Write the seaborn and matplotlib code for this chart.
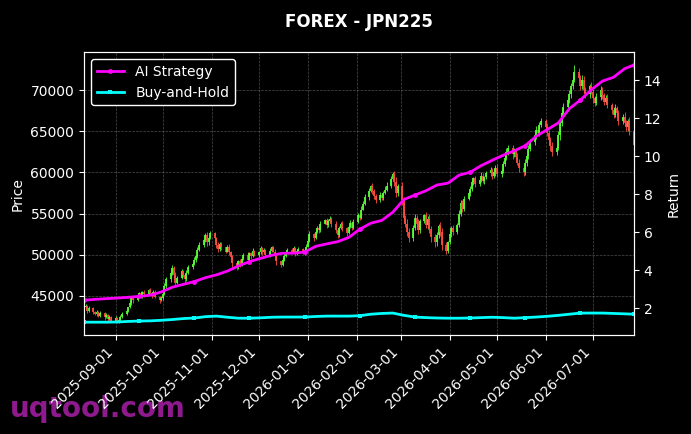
import matplotlib
matplotlib.use('Agg')
import matplotlib.pyplot as plt
import matplotlib.dates as mdates
import numpy as np
import pandas as pd
import seaborn as sns

# daily closes (hundreds of index points), business days from 2025-08-12
close = [
  436, 438, 432, 435, 430, 428, 431, 426, 429, 424,
  427, 422, 425, 420, 423, 419, 421, 425, 428, 432,
  436, 441, 447, 445, 450, 453, 449, 455, 452, 457,
  454, 451, 455, 449, 445, 447, 452, 462, 470, 478,
  484, 475, 466, 472, 480, 476, 470, 478, 485, 489,
  494, 498, 506, 512, 518, 524, 515, 521, 526, 520,
  512, 507, 513, 509, 504, 510, 503, 497, 490, 485,
  492, 488, 495, 500, 494, 502, 498, 505, 500, 503,
  508, 503, 506, 500, 505, 509, 504, 498, 492, 488,
  494, 499, 503, 506, 504, 508, 502, 505, 507, 503,
  506, 510, 517, 525, 520, 528, 533, 530, 538, 542,
  536, 541, 544, 537, 530, 524, 532, 538, 532, 527,
  534, 539, 533, 540, 548, 545, 555, 562, 570, 578,
  583, 577, 572, 566, 573, 569, 575, 579, 584, 592,
  598, 588, 575, 583, 566, 545, 538, 528, 520, 533,
  545, 538, 530, 541, 548, 536, 544, 531, 522, 515,
  524, 535, 528, 512, 505, 515, 525, 532, 528, 536,
  550, 563, 556, 568, 575, 580, 588, 593, 586, 591,
  596, 590, 594, 599, 603, 596, 601, 606, 598, 602,
  610, 618, 625, 630, 622, 626, 619, 612, 605, 600,
  612, 620, 628, 637, 645, 652, 648, 658, 662, 655,
  648, 640, 632, 625, 630, 645, 660, 672, 680, 688,
  695, 705, 712, 722, 715, 705, 712, 700, 695, 705,
  698, 690, 685, 692, 700, 694, 686, 690, 682, 676,
  670, 678, 672, 663, 668, 660, 655, 662, 650, 633,
]
first_open = 434

# upper / lower shadow lengths (hundreds of points)
wick_up = [
  1, 2, 1, 3, 1, 2, 2, 1, 3, 1,
  2, 1, 2, 1, 3, 2, 1, 2, 3, 2,
  1, 3, 2, 2, 1, 2, 3, 1, 2, 2,
  3, 1, 2, 2, 1, 3, 2, 4, 3, 2,
  3, 2, 4, 2, 3, 1, 2, 3, 2, 2,
  3, 2, 4, 3, 2, 3, 4, 2, 3, 2,
  2, 3, 2, 3, 1, 2, 3, 2, 3, 2,
  2, 3, 1, 2, 3, 2, 2, 3, 1, 2,
  3, 2, 2, 1, 3, 2, 2, 3, 2, 1,
  2, 3, 1, 2, 2, 3, 1, 2, 2, 1,
  2, 3, 3, 4, 2, 3, 2, 3, 3, 2,
  3, 2, 3, 2, 4, 2, 3, 2, 3, 2,
  2, 3, 2, 4, 3, 2, 4, 3, 4, 3,
  2, 4, 3, 2, 3, 2, 3, 4, 5, 4,
  3, 4, 6, 3, 5, 4, 3, 5, 4, 3,
  4, 3, 5, 3, 2, 4, 3, 5, 4, 3,
  4, 3, 5, 4, 3, 2, 4, 3, 4, 3,
  5, 4, 3, 4, 3, 3, 4, 2, 3, 3,
  4, 3, 2, 3, 4, 3, 2, 3, 4, 3,
  4, 3, 5, 4, 3, 4, 3, 5, 4, 3,
  4, 3, 5, 4, 3, 4, 5, 3, 4, 3,
  5, 4, 3, 5, 4, 6, 4, 5, 4, 3,
  5, 4, 6, 8, 5, 4, 6, 5, 4, 3,
  5, 4, 3, 4, 5, 4, 3, 4, 5, 3,
  4, 5, 3, 4, 3, 5, 4, 3, 5, 4,
]
wick_dn = [
  2, 1, 3, 1, 2, 1, 2, 2, 1, 3,
  1, 2, 1, 2, 1, 2, 2, 1, 2, 1,
  2, 1, 2, 3, 1, 2, 1, 2, 3, 1,
  2, 3, 1, 2, 3, 1, 2, 1, 2, 3,
  2, 4, 3, 2, 1, 3, 4, 2, 1, 2,
  2, 3, 2, 1, 3, 2, 4, 3, 2, 3,
  4, 3, 2, 3, 2, 1, 3, 4, 5, 3,
  2, 3, 2, 1, 3, 2, 3, 1, 2, 3,
  2, 3, 1, 2, 3, 2, 1, 3, 4, 3,
  2, 1, 2, 1, 2, 1, 3, 2, 1, 2,
  3, 2, 1, 2, 3, 1, 2, 3, 2, 1,
  3, 2, 1, 3, 4, 3, 2, 1, 3, 4,
  2, 1, 3, 2, 1, 3, 2, 1, 2, 3,
  2, 3, 4, 3, 2, 3, 2, 1, 2, 3,
  2, 4, 5, 3, 6, 5, 4, 5, 4, 3,
  3, 4, 5, 3, 2, 4, 5, 4, 6, 5,
  4, 3, 5, 6, 4, 3, 2, 3, 4, 3,
  2, 3, 4, 3, 2, 3, 2, 3, 4, 3,
  2, 3, 4, 2, 3, 4, 3, 5, 4, 3,
  3, 2, 3, 4, 5, 3, 4, 3, 5, 4,
  3, 4, 3, 2, 3, 4, 3, 4, 3, 5,
  4, 5, 6, 5, 4, 3, 5, 4, 3, 5,
  3, 4, 3, 2, 4, 5, 3, 4, 5, 4,
  3, 5, 4, 3, 4, 5, 4, 3, 4, 5,
  4, 3, 4, 5, 4, 3, 4, 5, 4, 3,
]

# cumulative returns, one value per week (every 5th trading day) plus the last day
ai_ret = [
  2.42, 2.46, 2.50, 2.53, 2.57, 2.62, 2.68, 2.85, 3.10, 3.25,
  3.40, 3.60, 3.75, 3.95, 4.22, 4.45, 4.62, 4.78, 4.89, 4.89,
  4.95, 5.25, 5.38, 5.50, 5.72, 6.15, 6.47, 6.62, 7.05, 7.72,
  7.95, 8.18, 8.48, 8.58, 9.00, 9.15, 9.50, 9.78, 10.05, 10.28,
  10.55, 11.05, 11.40, 11.75, 12.50, 12.95, 13.50, 13.95, 14.15, 14.60,
  14.80,
]
bh_ret = [
  1.26, 1.26, 1.26, 1.27, 1.30, 1.32, 1.33, 1.36, 1.40, 1.45,
  1.48, 1.55, 1.58, 1.52, 1.47, 1.47, 1.49, 1.52, 1.53, 1.53,
  1.53, 1.56, 1.58, 1.58, 1.58, 1.60, 1.68, 1.72, 1.74, 1.62,
  1.53, 1.50, 1.48, 1.47, 1.47, 1.48, 1.50, 1.52, 1.50, 1.47,
  1.50, 1.53, 1.57, 1.62, 1.68, 1.74, 1.74, 1.74, 1.72, 1.70,
  1.68,
]

dates = pd.bdate_range('2025-08-12', periods=len(close))
c = np.array(close) * 100.0
o = np.array([first_open] + close[:-1]) * 100.0
hi = np.maximum(o, c) + np.array(wick_up) * 100
lo = np.minimum(o, c) - np.array(wick_dn) * 100
cols = np.where(c >= o, '#55ff33', '#ff4d40')

line_idx = list(range(0, len(close), 5)) + [len(close) - 1]
line_dates = dates[line_idx]

plt.style.use('dark_background')
fig, ax = plt.subplots(figsize=(6.91, 4.34), dpi=100)
fig.subplots_adjust(left=0.1216, right=0.9175, top=0.880, bottom=0.228)

ax.vlines(dates, lo, hi, colors=cols, linewidth=0.6)
ax.vlines(dates, np.minimum(o, c), np.maximum(o, c), colors=cols, linewidth=1.3)
ax.set_ylim(40250, 74630)
ax.set_ylabel('Price', fontsize=10)
ax.grid(True, color='gray', linestyle='--', linewidth=0.5, alpha=0.6)
ax.set_title('FOREX - JPN225', fontsize=12, fontweight='bold', pad=18)

ax2 = ax.twinx()
sns.lineplot(x=line_dates, y=ai_ret, ax=ax2, color='magenta', linewidth=2,
             marker='o', markersize=3.5, markevery=5, markeredgewidth=0, label='AI Strategy')
sns.lineplot(x=line_dates, y=bh_ret, ax=ax2, color='cyan', linewidth=2,
             marker='s', markersize=3.5, markevery=5, markeredgewidth=0, label='Buy-and-Hold')
ax2.set_ylabel('Return', fontsize=10)
ax2.grid(False)
ax2.legend(loc='upper left', facecolor='black', edgecolor='white', framealpha=1, fontsize=10)

ax.set_xlim(dates[0], dates[-1])
ax.xaxis.set_major_locator(mdates.MonthLocator())
ax.xaxis.set_major_formatter(mdates.DateFormatter('%Y-%m-%d'))
plt.setp(ax.get_xticklabels(), rotation=45, ha='right')

fig.text(0.0145, 0.039, 'uqtool.com', fontsize=20, fontweight='bold',
         color='#8e1a8e', va='baseline', ha='left', zorder=-1)

fig.savefig('out.png', dpi=100, facecolor='black')
